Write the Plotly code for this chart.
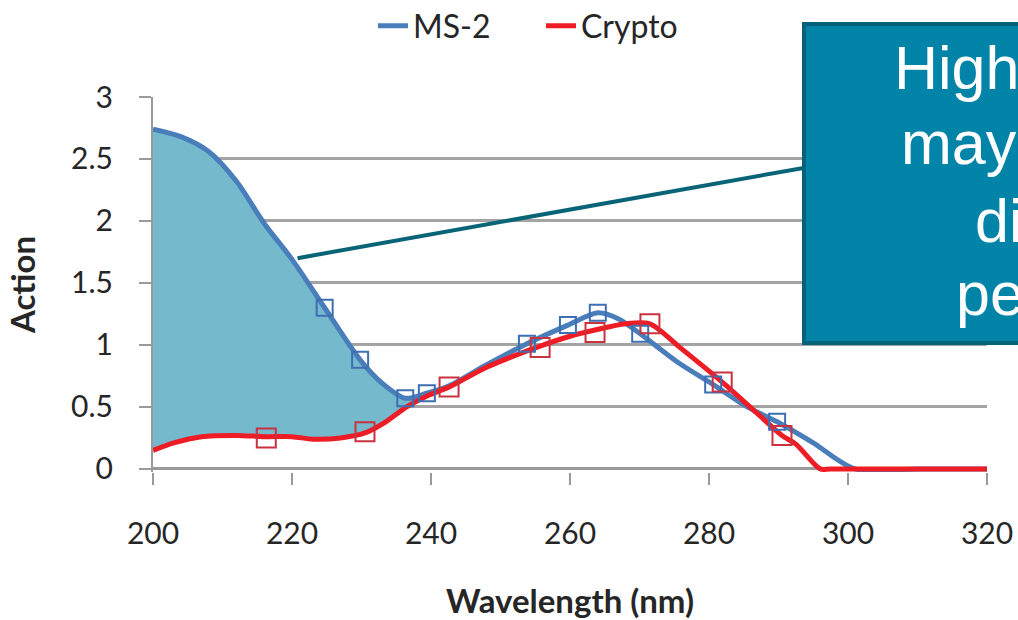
import plotly.graph_objects as go

# ---------------- data ----------------
ms2_x = [200, 204, 208, 212, 216, 220, 224.7, 229.8, 233, 236.3, 239.4, 242.6, 248,
         253.8, 259.7, 264, 267, 270.1, 275.5, 280.6, 285.5, 289.8, 295, 301, 310, 320]
ms2_y = [2.74, 2.68, 2.56, 2.32, 1.98, 1.69, 1.30, 0.88, 0.69, 0.57, 0.61, 0.67, 0.84,
         1.01, 1.16, 1.26, 1.21, 1.09, 0.86, 0.68, 0.50, 0.38, 0.21, 0.0, 0.0, 0.0]

crypto_x = [200, 203, 207, 212, 216.3, 220, 223, 227, 230.5, 233.5, 236.5, 239.5, 242.6,
            248, 255.7, 260, 263.6, 268, 271.5, 275.8, 281.9, 286.9, 290.5, 292.5, 296,
            297.5, 310, 320]
crypto_y = [0.15, 0.21, 0.26, 0.27, 0.26, 0.26, 0.24, 0.25, 0.29, 0.38, 0.50, 0.59, 0.66,
            0.82, 0.99, 1.07, 1.12, 1.17, 1.17, 0.98, 0.70, 0.45, 0.27, 0.20, 0.0,
            0.0, 0.0, 0.0]

ms2_mark_x = [224.7, 229.8, 236.3, 239.4, 253.8, 259.7, 264.0, 270.1, 280.6, 289.8]
ms2_mark_y = [1.30, 0.88, 0.57, 0.61, 1.01, 1.16, 1.26, 1.09, 0.68, 0.38]

crypto_mark_x = [216.3, 230.5, 242.6, 255.7, 263.6, 271.5, 281.9, 290.5]
crypto_mark_y = [0.25, 0.30, 0.66, 0.98, 1.10, 1.17, 0.70, 0.27]

fill_end = 239.5

x_ticks = [200, 220, 240, 260, 280, 300, 320]
y_ticks = [0, 0.5, 1, 1.5, 2, 2.5, 3]
y_tick_text = ["0", "0.5", "1", "1.5", "2", "2.5", "3"]

callout_lines = ["High", "may", "di", "pe"]

# ---------------- layout geometry ----------------
W, H = 1018, 620
ML, MR, MT = 153, 31, 97
PW, PH = W - ML - MR, 375
MB = H - MT - PH


def px_x(p):
    return (p - ML) / PW


def px_y(p):
    return (MT + PH - p) / PH


BLUE = "#4a7ebb"
RED = "#ee1c24"
FILL = "#74b9cc"
GRID = "#a4a4a4"
BOX = "#0284a8"
BOX_EDGE = "#05627a"

fig = go.Figure()

# fill between the curves (low wavelengths)
cf = [(x, y) for x, y in zip(crypto_x, crypto_y) if x <= fill_end]
mf = [(x, y) for x, y in zip(ms2_x, ms2_y) if x <= fill_end]
fig.add_trace(go.Scatter(x=[p[0] for p in cf], y=[p[1] for p in cf], mode="lines",
                         line=dict(width=0, shape="spline"), showlegend=False,
                         hoverinfo="skip"))
fig.add_trace(go.Scatter(x=[p[0] for p in mf], y=[p[1] for p in mf], mode="lines",
                         line=dict(width=0, shape="spline"), fill="tonexty",
                         fillcolor=FILL, showlegend=False, hoverinfo="skip"))

fig.add_trace(go.Scatter(x=ms2_x, y=ms2_y, mode="lines", name="MS-2",
                         line=dict(color=BLUE, width=5, shape="spline", smoothing=0.8)))
fig.add_trace(go.Scatter(x=crypto_x, y=crypto_y, mode="lines", name="Crypto",
                         line=dict(color=RED, width=5, shape="spline", smoothing=0.8)))

fig.add_trace(go.Scatter(x=ms2_mark_x, y=ms2_mark_y, mode="markers", showlegend=False,
                         marker=dict(symbol="square-open", size=16, color="#3d6fb2",
                                     line=dict(width=2))))
fig.add_trace(go.Scatter(x=crypto_mark_x, y=crypto_mark_y, mode="markers", showlegend=False,
                         marker=dict(symbol="square-open", size=19, color="#c8333f",
                                     line=dict(width=2))))

# callout box and connector
shapes = [
    dict(type="line", xref="x", yref="y", x0=220.8, y0=1.70, x1=293.8, y1=2.43,
         line=dict(color="#0a6478", width=4), layer="above"),
    dict(type="rect", xref="paper", yref="paper", x0=px_x(804), x1=px_x(1120),
         y0=px_y(343), y1=px_y(24), fillcolor=BOX, line=dict(color=BOX_EDGE, width=4),
         layer="above"),
]

callout_left = [892, 899, 973, 954]
callout_mid = [68, 143, 221, 294]
annotations = []
for txt, lx, my in zip(callout_lines, callout_left, callout_mid):
    annotations.append(dict(text=txt, xref="paper", yref="paper", x=px_x(lx), y=px_y(my),
                            xanchor="left", yanchor="middle", showarrow=False,
                            font=dict(family="Liberation Sans, Arial", size=61,
                                      color="white")))

fig.update_layout(
    width=W, height=H,
    margin=dict(l=ML, r=MR, t=MT, b=MB, autoexpand=False),
    paper_bgcolor="white", plot_bgcolor="white",
    font=dict(family="Lato, Open Sans, sans-serif", color="#262626"),
    showlegend=True,
    legend=dict(orientation="h", traceorder="normal", x=px_x(373), xanchor="left",
                y=px_y(26), yanchor="middle",
                font=dict(size=32, family="Lato"), entrywidth=123, entrywidthmode="pixels",
                bgcolor="rgba(0,0,0,0)"),
    shapes=shapes, annotations=annotations,
    xaxis=dict(range=[200, 320], tickvals=x_ticks, ticks="outside", ticklen=12,
               tickwidth=2, tickcolor="#9a9a9a", showline=False, showgrid=False,
               zeroline=False, tickfont=dict(size=30), ticklabelstandoff=23,
               title=dict(text="<b>Wavelength (nm)</b>", font=dict(size=33), standoff=42)),
    yaxis=dict(range=[-0.025, 3], tickvals=y_ticks, ticktext=y_tick_text, ticks="outside",
               ticklen=12, tickwidth=2, tickcolor="#9a9a9a", showline=True, linewidth=2,
               linecolor="#9a9a9a", showgrid=True, gridcolor=GRID, gridwidth=2.5,
               zeroline=True, zerolinecolor="#9a9a9a", zerolinewidth=2.5,
               tickfont=dict(size=30), ticklabelstandoff=20,
               title=dict(text="<b>Action</b>", font=dict(size=33), standoff=26)),
)

# remove the browser's default page margin so the figure fills the window
fig.write_html(
    "out.html",
    config={"displayModeBar": False},
    post_script="document.body.style.margin='0';"
                "document.documentElement.style.overflow='hidden';",
)
